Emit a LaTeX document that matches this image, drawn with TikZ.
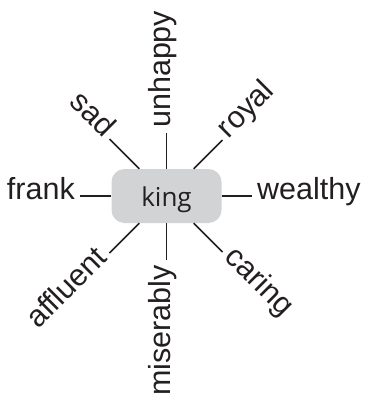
\documentclass[tikz,border=0pt]{standalone}
\usepackage{fontspec}
\newfontfamily\wordfont{Liberation Sans}
\newfontfamily\kingfont{Open Sans}
\definecolor{ink}{HTML}{231F20}
\definecolor{boxgray}{HTML}{D1D3D4}
\tikzset{
  word/.style={font=\wordfont\fontsize{30.5}{36}\selectfont, text=ink,
    text height=0.76em, text depth=0pt, inner xsep=5pt, inner ysep=0pt},
  hub/.style={rounded corners=13pt, fill=boxgray, minimum width=110pt,
    minimum height=54pt, inner sep=0pt, text=ink,
    font=\kingfont\fontsize{26}{30}\selectfont, text height=20pt, text depth=0pt},
  link/.style={draw=ink, line width=1.7pt}
}
\begin{document}
\begin{tikzpicture}[x=1pt,y=-1pt]
\useasboundingbox (0,0) rectangle (373,399);
\node[hub] (king) at (166.5,196) {king};
\node[word, rotate=90, anchor=west] (unhappy) at (166.5,133) {unhappy};
\node[word, rotate=90, anchor=east] (miserably) at (166.5,260) {miserably};
\node[word, anchor=east] (frank) at (80,196) {frank};
\node[word, anchor=west] (wealthy) at (252,196) {wealthy};
\node[word, rotate=-45, anchor=east] (sad) at (109.5,139) {sad};
\node[word, rotate=45, anchor=west] (royal) at (222.5,140) {royal};
\node[word, rotate=45, anchor=east] (affluent) at (109.5,253) {affluent};
\node[word, rotate=-45, anchor=west] (caring) at (222.5,252) {caring};
\foreach \w in {unhappy,miserably,frank,wealthy,sad,royal,affluent,caring}
  \draw[link] (king) -- (\w);
\end{tikzpicture}
\end{document}
